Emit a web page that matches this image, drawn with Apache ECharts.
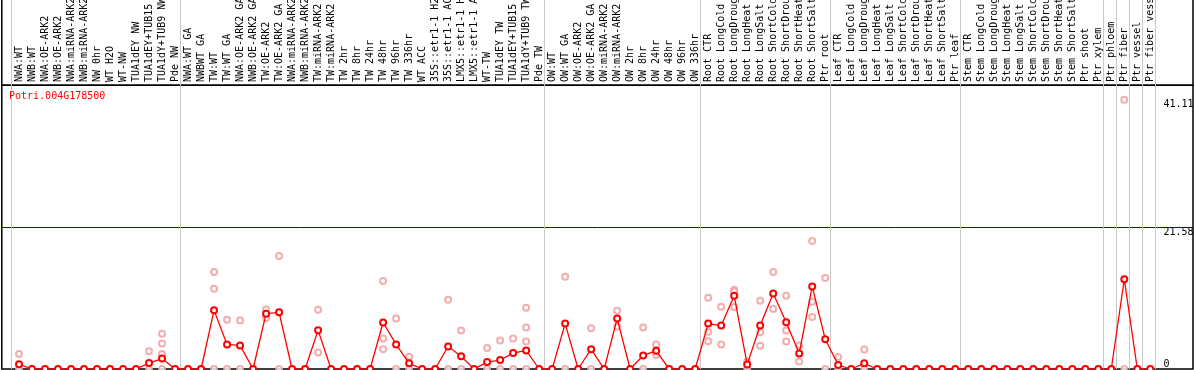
<!DOCTYPE html>
<html>
<head>
<meta charset="utf-8">
<script src="https://cdn.jsdelivr.net/npm/echarts@6/dist/echarts.min.js"></script>
<style>
html,body{margin:0;padding:0;background:#fff;}
#chart{width:1194px;height:370px;}
</style>
</head>
<body>
<div id="chart"></div>
<script>
const geneName = 'Potri.004G178500';

const categories = [
  'NWA:WT','NWB:WT','NWA:OE-ARK2','NWB:OE-ARK2','NWA:miRNA-ARK2','NWB:miRNA-ARK2','NW 0hr','WT H2O','WT-NW','TUA1dEY NW','TUA1dEY+TUB15','TUA1dY+TUB9 NW','Pde NW',
  'NWA:WT GA','NWBWT GA','TW:WT','TW:WT GA','NWA:OE-ARK2 GA','NWB:OE-ARK2 GA','TW:OE-ARK2','TW:OE-ARK2 GA','NWA:miRNA-ARK2','NWB:miRNA-ARK2','TW:miRNA-ARK2','TW:miRNA-ARK2','TW 2hr','TW 8hr','TW 24hr','TW 48hr','TW 96hr','TW 336hr','WT ACC','35S::etr1-1 H2O','35S::etr1-1 ACC','LMX5::etr1-1 H2O','LMX5::etr1-1 ACC','WT-TW','TUA1dEY TW','TUA1dEY+TUB15','TUA1dY+TUB9 TW','Pde TW',
  'OW:WT','OW:WT GA','OW:OE-ARK2','OW:OE-ARK2 GA','OW:miRNA-ARK2','OW:miRNA-ARK2','OW 2hr','OW 8hr','OW 24hr','OW 48hr','OW 96hr','OW 336hr',
  'Root CTR','Root LongCold','Root LongDrought','Root LongHeat','Root LongSalt','Root ShortCold','Root ShortDrought','Root ShortHeat','Root ShortSalt','Ptr root',
  'Leaf CTR','Leaf LongCold','Leaf LongDrought','Leaf LongHeat','Leaf LongSalt','Leaf ShortCold','Leaf ShortDrought','Leaf ShortHeat','Leaf ShortSalt','Ptr leaf',
  'Stem CTR','Stem LongCold','Stem LongDrought','Stem LongHeat','Stem LongSalt','Stem ShortCold','Stem ShortDrought','Stem ShortHeat','Stem ShortSalt','Ptr shoot','Ptr xylem',
  'Ptr phloem','Ptr fiber','Ptr vessel','Ptr fiber vessel'
];

// index of first category of each sample group (separator lines)
const groupStarts = [0, 13, 41, 53, 63, 73, 84, 85, 86, 87];

// mean expression per category
const means = [
  0.72,0,0,0,0,0,0,0,0,0,0.9,1.6,0,
  0,0,8.95,3.75,3.6,0,8.45,8.65,0,0,5.9,0,0,0,0,7.1,3.75,0.86,0,0,3.44,1.93,0,1.06,1.37,2.43,2.83,0,
  0,6.93,0,3.03,0,7.69,0,2.07,2.78,0,0,0,
  6.93,6.63,11.18,0.7,6.63,11.53,7.13,2.38,12.6,4.55,
  0.61,0,0.86,0,0,0,0,0,0,0,
  0,0,0,0,0,0,0,0,0,0,0,
  0,13.7,0,0
];

// individual replicate values per category
const replicates = [
  [2.3,0],[],[],[],[],[],[],[],[],[],[2.7,0],[5.4,3.9,2.3,0],[],
  [],[],[14.8,12.25,0],[7.5,0],[7.4,0],[],[9.1,7.8],[17.25,0],[],[],[9.05,2.5],[],[],[],[],[13.45,4.65,3.0],[7.7,0],[1.87,0],[],[],[10.57,0],[5.87,0],[],[3.19,0],[4.35,0],[4.65,0],[9.36,6.33,4.2,0],[],
  [],[14.1,0],[],[6.22,0],[],[8.9,6.5],[],[6.32,0],[3.74,2.12],[],[],[],
  [10.88,5.67,4.25],[9.51,3.74],[12.09,11.84,9.46],[1.16,0],[10.42,5.61,3.54],[14.82,9.15],[11.18,5.87,4.2],[3.59,1.16],[19.53,10.27,7.94],[13.9,0],
  [1.82,0],[],[2.98,0],[],[],[],[],[],[],[],
  [],[],[],[],[],[],[],[],[],[],[],
  [],[41.11,0],[],[]
];

const yMax = 41.11;
const yInterval = 21.58;

const mono = 'DejaVu Sans Mono';
const repPoints = [];
replicates.forEach((vals, i) => vals.forEach(v => repPoints.push([i, v])));

const chart = echarts.init(document.getElementById('chart'), null, {renderer: 'canvas'});
const plotTop = 99.7;
const gridGray = '#c8c8c8';
const hiddenX = (g) => ({type: 'value', gridIndex: g, show: false});
const hiddenY = (g) => ({type: 'value', gridIndex: g, show: false});

chart.setOption({
  animation: false,
  backgroundColor: '#fff',
  title: {
    text: geneName, left: 9, top: 91, padding: 0,
    textStyle: {color: '#ff0000', fontFamily: mono, fontSize: 10, fontWeight: 'normal', lineHeight: 10}
  },
  grid: [
    {left: 12.5, width: 1144.3, top: plotTop, bottom: 1, outerBoundsMode: 'none', containLabel: false},
    {left: 10.8, width: 1144.5, top: 0, bottom: 1, outerBoundsMode: 'none', containLabel: false},
    {left: 1.8, right: 1, top: plotTop, bottom: 1, outerBoundsMode: 'none', containLabel: false},
    {left: 1.8, right: 1, top: 85.2, bottom: 1, show: true, borderColor: '#000', borderWidth: 1.5, backgroundColor: 'rgba(255,255,255,0)', outerBoundsMode: 'none', containLabel: false},
    {left: 1.8, right: 1, top: -10, height: 95.2, show: true, borderColor: '#000', borderWidth: 1.5, backgroundColor: 'rgba(255,255,255,0)', outerBoundsMode: 'none', containLabel: false}
  ],
  xAxis: [
    {
      type: 'category', gridIndex: 0, data: categories, boundaryGap: true,
      position: 'top', offset: plotTop - 85,
      axisLine: {show: false}, axisTick: {show: false}, splitLine: {show: false},
      axisLabel: {
        show: true, interval: 0, rotate: 90, margin: 3, hideOverlap: false,
        fontFamily: mono, fontSize: 10, color: '#000'
      }
    },
    {
      type: 'category', gridIndex: 1, data: categories, boundaryGap: true,
      axisLine: {show: false}, axisTick: {show: false}, axisLabel: {show: false},
      splitLine: {
        show: true,
        interval: (idx) => groupStarts.indexOf(idx) >= 0,
        lineStyle: {color: gridGray, width: 1}
      }
    },
    {type: 'value', gridIndex: 2, min: 0, max: 1, show: false},
    hiddenX(3), hiddenX(4)
  ],
  yAxis: [
    {type: 'value', gridIndex: 0, min: 0, max: yMax, show: false},
    hiddenY(1),
    {
      type: 'value', gridIndex: 2, min: 0, max: yMax, interval: yInterval, position: 'right',
      axisLine: {show: false}, axisTick: {show: false},
      splitLine: {show: true, showMinLine: false, showMaxLine: false, lineStyle: {color: '#0000ff', width: 1}},
      axisLabel: {
        inside: true, align: 'left', verticalAlign: 'top', margin: 29.5,
        showMinLabel: false, fontFamily: mono, fontSize: 10, color: '#000'
      }
    },
    {
      type: 'value', gridIndex: 2, min: 0, max: yMax, interval: yInterval, position: 'right',
      axisLine: {show: false}, axisTick: {show: false}, splitLine: {show: false},
      axisLabel: {
        inside: true, align: 'left', verticalAlign: 'bottom', margin: 29.5,
        showMaxLabel: false, fontFamily: mono, fontSize: 10, color: '#000',
        formatter: (v) => (v === 0 ? '0' : '')
      }
    },
    hiddenY(3), hiddenY(4)
  ],
  series: [
    {
      type: 'scatter', xAxisIndex: 0, yAxisIndex: 0, data: repPoints,
      symbol: 'emptyCircle', symbolSize: 6,
      itemStyle: {color: '#ef9a9a', borderColor: '#ef9a9a', borderWidth: 1.2},
      z: 3, silent: true
    },
    {
      type: 'line', xAxisIndex: 0, yAxisIndex: 0, data: means,
      symbol: 'emptyCircle', symbolSize: 6, showAllSymbol: true,
      lineStyle: {color: '#ff0000', width: 1.3},
      itemStyle: {color: '#ff0000', borderColor: '#ff0000', borderWidth: 1.5},
      z: 4, silent: true
    }
  ]
});
</script>
</body>
</html>
